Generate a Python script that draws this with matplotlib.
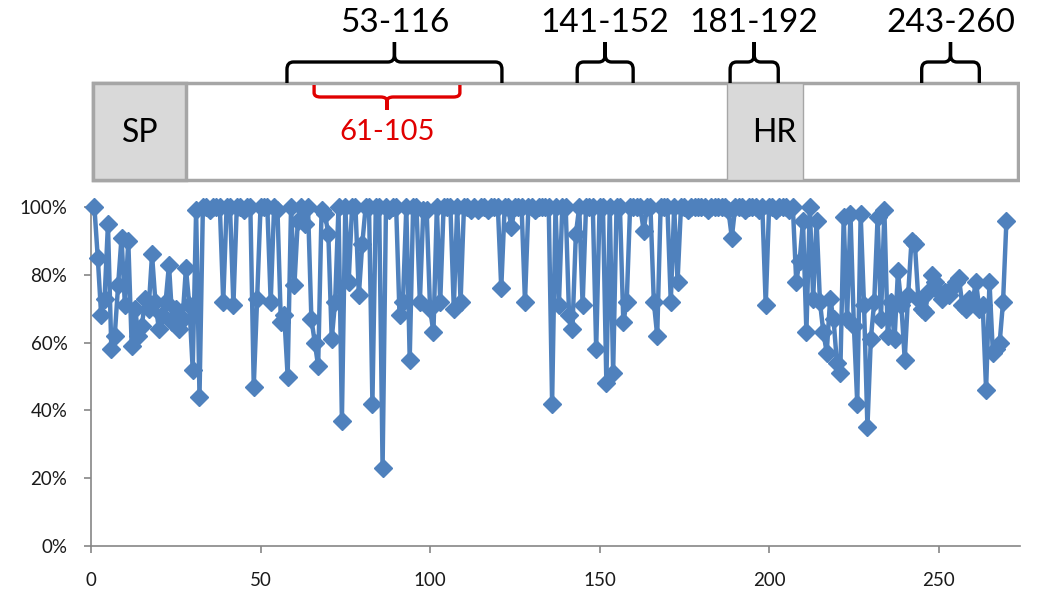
import numpy as np
import matplotlib
matplotlib.use("Agg")
import matplotlib.pyplot as plt
from matplotlib.path import Path
from matplotlib.patches import PathPatch, Rectangle

plt.rcParams['font.family'] = ['Lato', 'DejaVu Sans']

# conservation (%) per residue
pct_1_30 = [100, 85, 68, 73, 95, 58, 62, 77, 91, 71,
            90, 59, 70, 62, 65, 73, 70, 86, 72, 64,
            68, 72, 83, 66, 70, 64, 67, 82, 71, 52]
pct_31_100 = [99, 44, 100, 100, 99, 100, 100, 100, 72, 100,
              100, 71, 100, 100, 99, 100, 100, 47, 73, 100,
              100, 100, 72, 100, 99, 66, 68, 50, 100, 77,
              96, 100, 95, 100, 67, 60, 53, 99, 98, 92,
              61, 72, 100, 37, 100, 78, 100, 100, 74, 89,
              100, 100, 42, 100, 100, 23, 100, 99, 100, 100,
              68, 72, 100, 55, 100, 100, 72, 99, 99, 70]
pct_101_170 = [63, 100, 72, 100, 100, 100, 70, 100, 72, 100,
               100, 99, 100, 99, 100, 100, 99, 100, 100, 100,
               76, 100, 100, 94, 100, 100, 100, 72, 100, 100,
               99, 100, 100, 100, 100, 42, 100, 71, 100, 100,
               68, 64, 92, 100, 71, 100, 100, 100, 58, 100,
               100, 48, 100, 51, 100, 100, 66, 72, 100, 100,
               100, 100, 93, 100, 100, 72, 62, 100, 100, 100]
pct_171_240 = [72, 100, 78, 100, 100, 99, 100, 100, 100, 100,
               100, 99, 100, 100, 100, 100, 100, 99, 91, 100,
               100, 100, 99, 100, 100, 100, 99, 100, 71, 100,
               100, 99, 100, 100, 100, 99, 100, 78, 84, 96,
               63, 100, 73, 96, 72, 63, 57, 73, 67, 54,
               51, 97, 67, 98, 65, 42, 98, 71, 35, 61,
               72, 97, 67, 99, 62, 72, 61, 81, 71, 55]
pct_241_270 = [74, 90, 89, 73, 70, 69, 75, 80, 78, 75,
               73, 75, 74, 76, 78, 79, 71, 70, 73, 72,
               78, 70, 71, 46, 78, 57, 58, 60, 72, 96]

values = np.array(pct_1_30 + pct_31_100 + pct_101_170 + pct_171_240 + pct_241_270) / 100.0
residues = np.arange(1, len(values) + 1)

# domain diagram
region_labels = ["53-116", "141-152", "181-192", "243-260"]
region_spans = [(57.8, 121.2), (143.4, 159.9), (188.5, 202.7), (245.0, 262.0)]
inner_label = "61-105"
inner_span = (65.8, 108.8)

blue = '#4F81BD'
grey_edge = '#A6A6A6'
grey_fill = '#D9D9D9'

fig = plt.figure(figsize=(10.48, 5.92), dpi=100)

# ---- line chart ----
ax = fig.add_axes([91 / 1048, 46 / 592, 929 / 1048, 339 / 592])
ax.plot(residues, values, color=blue, lw=3.2, marker='D', ms=9.5,
        mfc=blue, mec=blue, clip_on=False, zorder=3)
ax.set_xlim(0, 274)
ax.set_ylim(0, 1.0)
ax.set_xticks([0, 50, 100, 150, 200, 250])
ax.set_yticks(np.arange(0, 1.01, 0.2))
ax.set_yticklabels(['{:.0f}%'.format(v * 100) for v in np.arange(0, 1.01, 0.2)])
for s in ['top', 'right']:
    ax.spines[s].set_visible(False)
for s in ['left', 'bottom']:
    ax.spines[s].set_color('#868686')
    ax.spines[s].set_linewidth(1.2)
ax.tick_params(axis='both', colors='#868686', labelcolor='#1a1a1a',
               labelsize=13.5, length=5, width=1.2, direction='out')
ax.tick_params(axis='y', pad=12)
ax.tick_params(axis='x', pad=14)

# ---- protein diagram ----
top = fig.add_axes([91 / 1048, 407 / 592, 929 / 1048, 185 / 592])
top.set_xlim(0, 274)
top.set_ylim(185, 0)
top.axis('off')

top.add_patch(Rectangle((0.6, 83), 272.9, 97, fc='white', ec=grey_edge, lw=2.5, zorder=1))
top.add_patch(Rectangle((0.6, 83), 27.4, 97, fc=grey_fill, ec=grey_edge, lw=2.5, zorder=2))
top.add_patch(Rectangle((187.6, 83), 22.4, 97, fc=grey_fill, ec=grey_edge, lw=1.0, zorder=2))
top.text(14.4, 133, "SP", fontsize=23, ha='center', va='center', color='black', zorder=4)
top.text(201.5, 133, "HR", fontsize=23, ha='center', va='center', color='black', zorder=4)


def brace(axis, x0, x1, ybase, yline, ytip, color):
    xm = (x0 + x1) / 2
    rx = 1.9
    ry = 0.35 * (ybase - yline)
    verts, codes = [], []
    for xe, sx in [(x0, 1), (x1, -1)]:
        verts += [(xe, ybase), (xe, yline + ry), (xe, yline), (xe + sx * rx, yline),
                  (xm - sx * rx, yline), (xm, yline), (xm, yline - ry), (xm, ytip)]
        codes += [Path.MOVETO, Path.LINETO, Path.CURVE3, Path.CURVE3,
                  Path.LINETO, Path.CURVE3, Path.CURVE3, Path.LINETO]
    axis.add_patch(PathPatch(Path(verts, codes), fc='none', ec=color, lw=2.4,
                             capstyle='butt', joinstyle='round', zorder=5))


for lab, (a, b) in zip(region_labels, region_spans):
    brace(top, a, b, 83, 62, 42, 'black')
    top.text((a + b) / 2, 23, lab, fontsize=24, ha='center', va='center', color='black')

brace(top, inner_span[0], inner_span[1], 85, 97, 110, '#E00000')
top.text(87.3, 132, inner_label, fontsize=21, ha='center', va='center', color='#E00000')

fig.savefig('out.png', dpi=100)
